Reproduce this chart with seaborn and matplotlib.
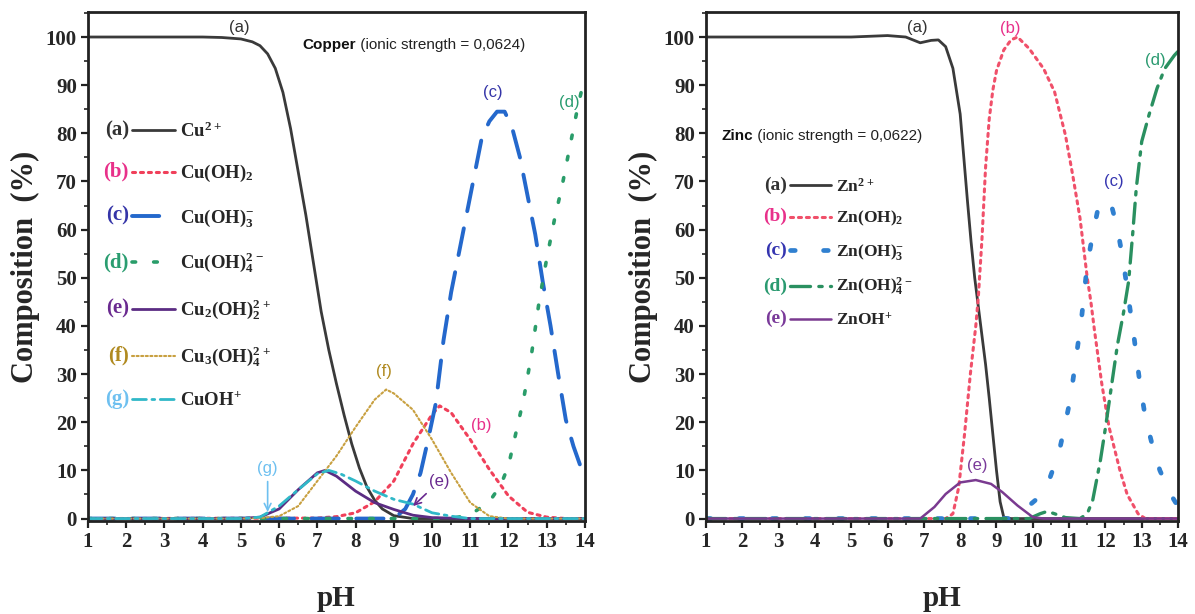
import seaborn as sns
import matplotlib.pyplot as plt
from matplotlib.ticker import MultipleLocator

sns.set_style('ticks')
plt.rcParams['font.family'] = ['Liberation Serif', 'DejaVu Sans']
plt.rcParams['font.weight'] = 'bold'
plt.rcParams['axes.labelweight'] = 'bold'
plt.rcParams['mathtext.default'] = 'regular'

# ---- Copper speciation ----
ph_cu_a = [1, 2, 3, 4, 4.5, 5.0, 5.3, 5.5, 5.7, 5.9, 6.1, 6.3, 6.5, 6.7, 6.9, 7.1, 7.3, 7.5, 7.7, 7.9, 8.1, 8.3, 8.5, 8.7, 9.0, 9.5, 14]
cu_a = [100, 100, 100, 100, 99.9, 99.6, 99.0, 98.2, 96.5, 93.5, 88.5, 81, 72, 63, 53, 43, 35, 28, 21.5, 15.5, 10.5, 6.5, 3.8, 2, 0.6, 0, 0]
ph_cu_b = [1, 7.0, 7.5, 8.0, 8.5, 9.0, 9.5, 10.0, 10.2, 10.5, 11.0, 11.5, 12.0, 12.5, 13.0, 13.5, 14]
cu_b = [0, 0.1, 0.4, 1.2, 3.5, 7.8, 15.5, 21.6, 23.4, 22, 16.4, 10.2, 4.7, 1.3, 0.3, 0, 0]
ph_cu_c = [1, 9.0, 9.3, 9.5, 9.7, 9.9, 10.1, 10.3, 10.5, 10.7, 10.9, 11.1, 11.3, 11.5, 11.7, 11.9, 12.1, 12.3, 12.5, 12.7, 12.9, 13.1, 13.3, 13.5, 13.7, 13.9, 14]
cu_c = [0, 0, 2, 5, 9.5, 16.5, 24, 37, 47, 55, 63, 71, 79, 82.5, 84.5, 84.5, 81, 75, 67, 59, 49, 40, 30, 20.5, 15, 10.5, 9]
ph_cu_d = [1, 10.5, 11.0, 11.5, 11.8, 12.0, 12.2, 12.4, 12.6, 12.8, 13.0, 13.2, 13.4, 13.6, 13.8, 14.0]
cu_d = [0, 0, 0.8, 3.5, 7, 11, 18, 25, 34, 45, 54, 62, 69, 77, 85, 92]
ph_cu_e = [1, 5.0, 5.5, 6.0, 6.5, 7.0, 7.2, 7.5, 8.0, 8.5, 9.0, 9.5, 10.0, 11.0, 14]
cu_e = [0, 0, 0.3, 2, 6, 9.5, 10, 8.8, 5.7, 3.3, 1.9, 0.7, 0.2, 0, 0]
ph_cu_f = [1, 5.0, 5.5, 6.0, 6.5, 7.0, 7.5, 8.0, 8.5, 8.8, 9.0, 9.5, 10.0, 10.5, 11.0, 11.5, 12.0, 14]
cu_f = [0, 0, 0.1, 0.5, 2.6, 7.8, 13, 19, 24.7, 26.8, 26, 22.6, 16.4, 9.5, 3.3, 0.5, 0, 0]
ph_cu_g = [1, 5.0, 5.5, 6.0, 6.5, 7.0, 7.3, 7.6, 8.0, 8.5, 9.0, 9.5, 10.0, 10.5, 11.0, 14]
cu_g = [0, 0, 0.3, 2.6, 6, 9.3, 10, 9.3, 7.8, 5.7, 4, 3, 1.2, 0.5, 0, 0]

# ---- Zinc speciation ----
ph_zn_a = [1, 3, 5, 6.0, 6.5, 6.9, 7.2, 7.4, 7.6, 7.8, 8.0, 8.1, 8.2, 8.3, 8.4, 8.5, 8.6, 8.7, 8.8, 8.9, 9.0, 9.1, 9.2, 9.4, 14]
zn_a = [100, 100, 100, 100.3, 100, 98.8, 99.3, 99.4, 98, 93.5, 84, 75, 66, 57.5, 50, 44, 38, 32, 25, 17.5, 10, 3.5, 0.3, 0, 0]
ph_zn_b = [1, 7.6, 7.8, 7.96, 8.12, 8.28, 8.43, 8.5, 8.6, 8.7, 8.8, 8.9, 9.0, 9.2, 9.4, 9.58, 9.9, 10.3, 10.6, 10.9, 11.1, 11.3, 11.5, 11.6, 11.7, 11.9, 12.1, 12.4, 12.6, 12.9, 13.1, 14]
zn_b = [0, 0, 1, 6.5, 17.5, 30, 40, 46, 58, 73, 83, 89, 93, 97.3, 99.4, 100, 97.6, 93.4, 88.6, 79.6, 71.3, 62.4, 50, 45, 39, 28, 19, 10, 5, 1, 0, 0]
ph_zn_c = [1, 9.4, 9.63, 10.1, 10.46, 10.72, 10.88, 11.03, 11.13, 11.24, 11.34, 11.5, 11.65, 11.8, 12.0, 12.15, 12.33, 12.5, 12.65, 12.8, 12.95, 13.1, 13.3, 13.5, 13.8, 14]
zn_c = [0, 0, 1, 4, 8.2, 13.7, 19.2, 24.7, 30, 36, 41.4, 52.8, 59, 64.5, 66.3, 65.5, 60.3, 53, 45, 37, 28, 21, 15, 10, 5, 2.5]
ph_zn_d = [1, 9.9, 10.2, 10.4, 10.6, 10.9, 11.3, 11.5, 11.65, 11.86, 12.0, 12.17, 12.33, 12.5, 12.64, 12.75, 12.85, 13.0, 13.2, 13.42, 13.63, 13.9, 14]
zn_d = [0, 0, 1, 1.5, 1, 0.2, 0, 1, 3.8, 12, 18.8, 27.7, 36, 42.8, 49.3, 59, 68.6, 78.3, 83.8, 89.3, 93.4, 96.2, 97]
ph_zn_e = [1, 6.9, 7.29, 7.6, 8.0, 8.43, 8.85, 9.16, 9.58, 10.0, 10.3, 14]
zn_e = [0, 0, 2.4, 5.1, 7.5, 8.0, 7.2, 5.5, 2.7, 0.3, 0, 0]

tags_cu = ['(a)', '(b)', '(c)', '(d)', '(e)', '(f)', '(g)']
names_cu = ['Cu$^{2+}$', 'Cu(OH)$_2$', 'Cu(OH)$_3^{-}$', 'Cu(OH)$_4^{2-}$',
            'Cu$_2$(OH)$_2^{2+}$', 'Cu$_3$(OH)$_4^{2+}$', 'CuOH$^{+}$']
tags_zn = ['(a)', '(b)', '(c)', '(d)', '(e)']
names_zn = ['Zn$^{2+}$', 'Zn(OH)$_2$', 'Zn(OH)$_3^{-}$', 'Zn(OH)$_4^{2-}$', 'ZnOH$^{+}$']

tag_col_cu = ['#333333', '#e8308a', '#3535a8', '#2a9d70', '#6a2a90', '#b08a20', '#6ec0f0']
tag_col_zn = ['#333333', '#e8308a', '#3535b0', '#2a9a70', '#7a3a9a']


def draw(ax, x, y, color, ls, lw, label):
    sns.lineplot(x=x, y=y, ax=ax, color=color, linestyle=ls, linewidth=lw,
                 label=label, errorbar=None)
    line = ax.lines[-1]
    line.set_dash_capstyle('round')
    return line


def tagged_legend(ax, lines, names, tags, colors, anchor, fs, tfs, spacing, hlen):
    leg = ax.legend(lines, names, loc='upper left', bbox_to_anchor=anchor,
                    frameon=False, prop={'weight': 'bold', 'size': fs},
                    handlelength=hlen, handletextpad=0.3, labelspacing=spacing,
                    borderpad=0, borderaxespad=0)
    for h, t, c in zip(leg.legend_handles, tags, colors):
        ax.annotate(t, xy=(0, 0.5), xycoords=h, xytext=(-2, 0), textcoords='offset points',
                    ha='right', va='center', color=c, fontsize=tfs, fontweight='bold', zorder=10)
    return leg


def style_axes(ax):
    ax.set_xlim(1, 14)
    ax.set_ylim(-0.5, 105.2)
    ax.xaxis.set_major_locator(MultipleLocator(1))
    ax.xaxis.set_minor_locator(MultipleLocator(0.5))
    ax.yaxis.set_major_locator(MultipleLocator(10))
    ax.yaxis.set_minor_locator(MultipleLocator(5))
    ax.tick_params(which='major', direction='out', length=5, width=1.6, labelsize=15,
                   top=False, right=False, color='#222222', pad=3)
    ax.tick_params(which='minor', direction='out', length=3, width=1.2,
                   top=False, right=False, color='#222222')
    for s in ax.spines.values():
        s.set_visible(True)
        s.set_linewidth(2)
        s.set_color('#222222')
    ax.set_xlabel('pH', fontsize=21, labelpad=24)
    ax.set_ylabel('Composition  (%)', fontsize=22, labelpad=4)


fig = plt.figure(figsize=(11.95, 6.14), dpi=100)
ax1 = fig.add_axes([0.0736, 0.1515, 0.4159, 0.829])
ax2 = fig.add_axes([0.5908, 0.1515, 0.395, 0.829])

# ---- left: copper ----
l_cu = [
    draw(ax1, ph_cu_a, cu_a, '#3a3a3a', '-', 2.0, names_cu[0]),
    draw(ax1, ph_cu_b, cu_b, '#f0405a', (0, (1, 1.6)), 2.2, names_cu[1]),
    draw(ax1, ph_cu_c, cu_c, '#2468cc', (0, (7, 4.5)), 2.8, names_cu[2]),
    draw(ax1, ph_cu_d, cu_d, '#2a9d6a', (0, (1, 5)), 2.6, names_cu[3]),
    draw(ax1, ph_cu_e, cu_e, '#5b2c83', '-', 2.0, names_cu[4]),
    draw(ax1, ph_cu_f, cu_f, '#c8a040', (0, (1, 1.2)), 1.5, names_cu[5]),
    draw(ax1, ph_cu_g, cu_g, '#30b8c8', (0, (5, 2, 1, 2)), 2.0, names_cu[6]),
]
style_axes(ax1)
tagged_legend(ax1, l_cu, names_cu, tags_cu, tag_col_cu, (0.088, 0.785), 13.5, 15, 1.2, 2.3)

lab = dict(family='Liberation Sans', fontweight='normal', fontsize=12, ha='center', va='center')
ax1.text(4.95, 102.0, '(a)', color='#333333', **lab)
ax1.text(11.6, 88.5, '(c)', color='#3535a8', **lab)
ax1.text(13.6, 86.5, '(d)', color='#2a9d70', **lab)
ax1.text(8.75, 30.5, '(f)', color='#b08a20', **lab)
ax1.text(11.3, 19.3, '(b)', color='#e8308a', **lab)
ax1.annotate('(g)', xy=(5.7, 0.8), xytext=(5.7, 10.5), color='#6ec0f0',
             arrowprops=dict(arrowstyle='->', color='#6ec0f0', lw=1.2), **lab)
ax1.annotate('(e)', xy=(9.45, 2.2), xytext=(10.2, 7.8), color='#6a2a90',
             arrowprops=dict(arrowstyle='->', color='#6a2a90', lw=1.2), **lab)
t1 = ax1.text(6.6, 98.3, 'Copper', family='Liberation Sans', fontweight='bold',
              fontsize=11, va='center', color='#111111')
ax1.annotate(' (ionic strength = 0,0624)', xy=(1, 0.5), xycoords=t1, va='center',
             family='Liberation Sans', fontweight='normal', fontsize=11, color='#222222')

# ---- right: zinc ----
l_zn = [
    draw(ax2, ph_zn_a, zn_a, '#3a3a3a', '-', 2.0, names_zn[0]),
    draw(ax2, ph_zn_b, zn_b, '#f0506a', (0, (1, 1.6)), 2.2, names_zn[1]),
    draw(ax2, ph_zn_c, zn_c, '#3080d0', (0, (1, 6)), 3.4, names_zn[2]),
    draw(ax2, ph_zn_d, zn_d, '#2a9060', (0, (6, 2.5, 1, 2.5)), 2.4, names_zn[3]),
    draw(ax2, ph_zn_e, zn_e, '#7a3a90', '-', 1.8, names_zn[4]),
]
style_axes(ax2)
tagged_legend(ax2, l_zn, names_zn, tags_zn, tag_col_zn, (0.177, 0.675), 12.5, 14, 0.8, 2.4)

ax2.text(6.82, 102.0, '(a)', color='#333333', **lab)
ax2.text(9.37, 101.7, '(b)', color='#e8308a', **lab)
ax2.text(12.23, 70.0, '(c)', color='#3535b0', **lab)
ax2.text(13.37, 95.2, '(d)', color='#2a9a70', **lab)
ax2.text(8.48, 11.0, '(e)', color='#7a3a9a', **lab)
t2 = ax2.text(1.42, 79.5, 'Zinc', family='Liberation Sans', fontweight='bold',
              fontsize=11, va='center', color='#111111')
ax2.annotate(' (ionic strength = 0,0622)', xy=(1, 0.5), xycoords=t2, va='center',
             family='Liberation Sans', fontweight='normal', fontsize=11, color='#222222')

fig.savefig('out.png', dpi=100)
